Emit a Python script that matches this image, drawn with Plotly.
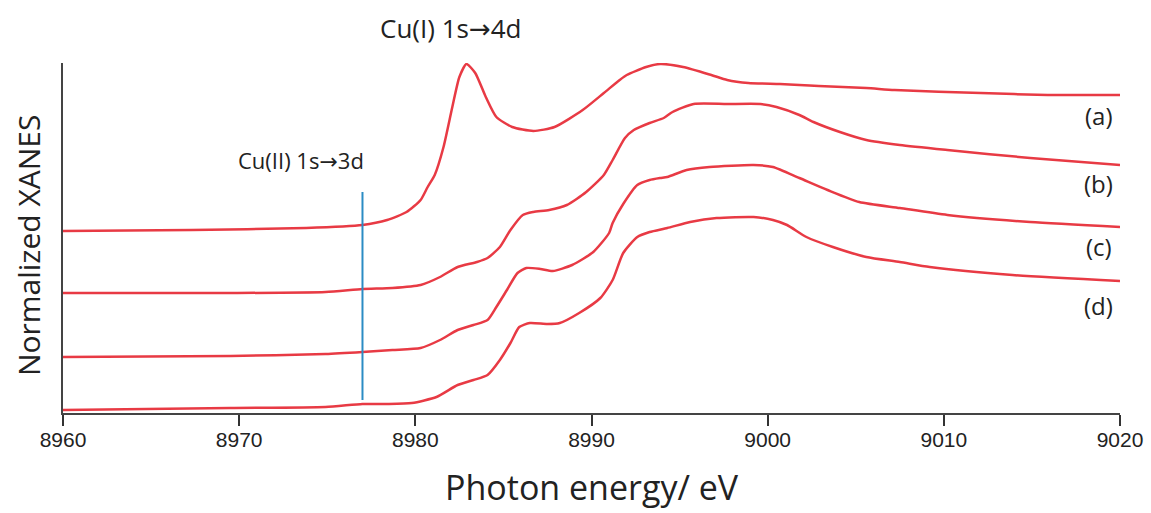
import plotly.graph_objects as go

# photon energy (eV) and normalized XANES (stacked, offset)
energy_a = [8960, 8967.3, 8973.8, 8977.0, 8978.4, 8979.5, 8980.3, 8980.7, 8981.1, 8981.6,
            8982.1, 8982.5, 8982.9, 8983.4, 8984.0, 8984.6, 8985.5, 8986.7, 8987.9, 8989.5,
            8990.7, 8991.6, 8992.0, 8993.1, 8993.9, 8995.2, 8996.8, 8997.7, 8998.9, 9000.7,
            9001.8, 9002.9, 9005.6, 9007.2, 9012.1, 9015.9, 9020]
xanes_a = [1.82, 1.83, 1.85, 1.88, 1.93, 2.01, 2.13, 2.26, 2.38, 2.66,
           3.06, 3.36, 3.49, 3.40, 3.16, 2.96, 2.86, 2.82, 2.86, 3.03,
           3.20, 3.33, 3.38, 3.46, 3.49, 3.46, 3.38, 3.33, 3.30, 3.29,
           3.28, 3.27, 3.25, 3.23, 3.20, 3.18, 3.18]

energy_b = [8960, 8969.5, 8974.9, 8977.0, 8978.7, 8980.3, 8981.4, 8982.4, 8983.5, 8984.1,
            8984.8, 8985.4, 8986.1, 8986.7, 8987.6, 8988.6, 8989.7, 8990.7, 8991.2, 8991.9,
            8992.4, 8993.3, 8994.1, 8994.6, 8995.8, 8997.7, 8999.6, 9000.5, 9001.8, 9002.6,
            9004.1, 9005.6, 9007.5, 9010.2, 9014.9, 9020]
xanes_b = [1.20, 1.20, 1.21, 1.24, 1.25, 1.28, 1.36, 1.46, 1.51, 1.55,
           1.66, 1.83, 1.98, 2.01, 2.03, 2.08, 2.21, 2.38, 2.53, 2.75,
           2.83, 2.90, 2.95, 3.01, 3.09, 3.09, 3.09, 3.06, 2.98, 2.91,
           2.81, 2.73, 2.68, 2.63, 2.55, 2.48]

energy_c = [8960, 8969.5, 8974.9, 8977.0, 8978.7, 8980.3, 8981.4, 8982.4, 8983.3, 8984.1,
            8984.6, 8985.2, 8985.8, 8986.3, 8987.1, 8987.8, 8988.9, 8990.1, 8991.0, 8991.2,
            8991.8, 8992.6, 8993.3, 8993.9, 8994.3, 8995.4, 8996.7, 8999.2, 9000.3, 9001.8,
            9003.4, 9005.2, 9007.5, 9010.2, 9014.9, 9020]
xanes_c = [0.56, 0.57, 0.59, 0.61, 0.63, 0.65, 0.73, 0.83, 0.88, 0.93,
           1.06, 1.23, 1.40, 1.45, 1.44, 1.42, 1.48, 1.61, 1.80, 1.90,
           2.09, 2.28, 2.33, 2.35, 2.36, 2.43, 2.46, 2.48, 2.46, 2.35,
           2.23, 2.11, 2.05, 1.98, 1.91, 1.86]

energy_d = [8960, 8969.5, 8974.9, 8977.0, 8978.4, 8979.8, 8981.2, 8982.4, 8983.3, 8984.1,
            8984.8, 8985.4, 8985.9, 8986.5, 8987.5, 8988.2, 8989.3, 8990.5, 8991.2, 8991.8,
            8992.6, 8993.3, 8994.3, 8995.6, 8997.1, 8999.2, 9000.3, 9001.1, 9002.2, 9003.7,
            9005.6, 9007.5, 9009.2, 9013.9, 9020]
xanes_d = [0.03, 0.05, 0.06, 0.09, 0.09, 0.10, 0.16, 0.28, 0.33, 0.38,
           0.53, 0.70, 0.86, 0.90, 0.89, 0.90, 1.00, 1.15, 1.33, 1.60,
           1.76, 1.81, 1.85, 1.91, 1.95, 1.96, 1.93, 1.88, 1.76, 1.66,
           1.56, 1.51, 1.46, 1.38, 1.32]

series = [('(a)', energy_a, xanes_a), ('(b)', energy_b, xanes_b),
          ('(c)', energy_c, xanes_c), ('(d)', energy_d, xanes_d)]
label_pos = [2.98, 2.30, 1.67, 1.08]

marker_energy = 8977.0
marker_range = [0.13, 2.21]

RED = '#e83a44'
BLUE = '#2b8cc4'
TEXT_FONT = 'Open Sans, Noto Sans, sans-serif'
ARROW = '<span style="font-family:DejaVu Sans">→</span>'

fig = go.Figure()
for name, x, y in series:
    fig.add_trace(go.Scatter(x=x, y=y, mode='lines', name=name,
                             line=dict(color=RED, width=2.5, shape='spline', smoothing=0.6)))

fig.add_trace(go.Scatter(x=[marker_energy, marker_energy], y=marker_range, mode='lines',
                         line=dict(color=BLUE, width=2), showlegend=False))

for (name, _, _), yl in zip(series, label_pos):
    fig.add_annotation(x=9018.8, y=yl, text=name, showarrow=False,
                       font=dict(family=TEXT_FONT, size=24, color='#222'))

fig.add_annotation(x=8982.0, y=1.10, yref='paper', yanchor='middle',
                   text='Cu(I) 1s' + ARROW + '4d', showarrow=False,
                   font=dict(family=TEXT_FONT, size=26, color='#222'))
fig.add_annotation(x=8973.5, y=2.53, text='Cu(II) 1s' + ARROW + '3d', showarrow=False,
                   font=dict(family=TEXT_FONT, size=22, color='#222'))

# axis titles
fig.add_annotation(x=0.5, y=-0.21, xref='paper', yref='paper', xanchor='center', yanchor='middle',
                   text='Photon energy/ eV', showarrow=False,
                   font=dict(family=TEXT_FONT, size=34, color='#222'))
fig.add_annotation(x=-0.033, y=0.48, xref='paper', yref='paper', xanchor='center', yanchor='middle',
                   text='Normalized XANES', textangle=-90, showarrow=False,
                   font=dict(family=TEXT_FONT, size=30, color='#222'))

fig.update_layout(
    width=1151, height=513,
    margin=dict(l=63, r=31, t=63, b=100),
    plot_bgcolor='white', paper_bgcolor='white',
    showlegend=False,
    xaxis=dict(range=[8960, 9020], tickvals=[8960, 8970, 8980, 8990, 9000, 9010, 9020],
               showgrid=False, zeroline=False, showline=True, linecolor='#444', linewidth=2,
               ticks='outside', ticklen=11, tickwidth=2, tickcolor='#333', automargin=False,
               ticklabelstandoff=-4,
               tickfont=dict(family='Liberation Sans Narrow, Liberation Sans, sans-serif', size=21, color='#222')),
    yaxis=dict(range=[0, 3.5], showgrid=False, zeroline=False, showticklabels=False,
               showline=True, linecolor='#444', linewidth=2, ticks='', automargin=False),
)

fig.write_html('out.html', config={'displayModeBar': False},
               post_script="document.body.style.margin='0';")
